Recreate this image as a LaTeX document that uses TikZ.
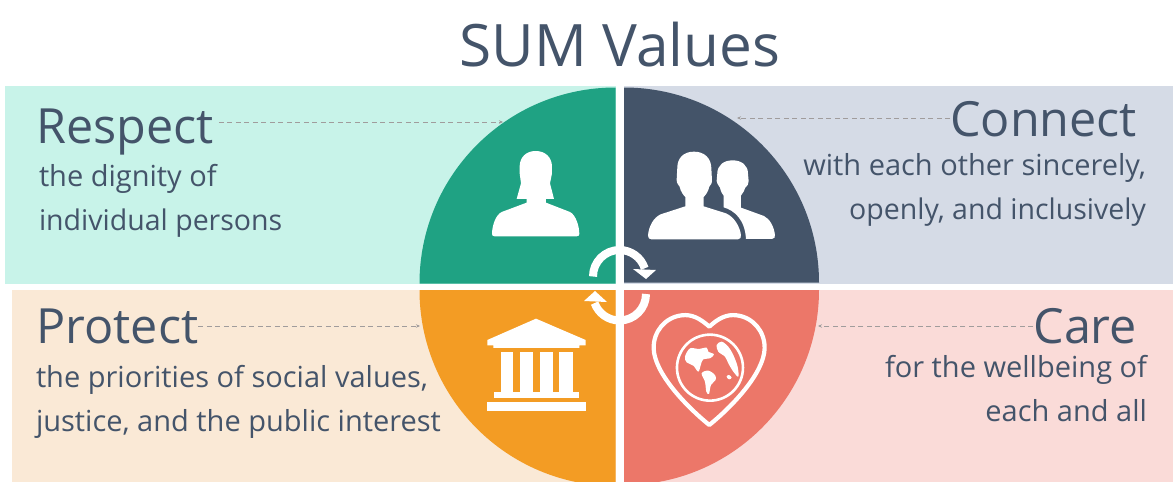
\documentclass[tikz,border=0pt]{standalone}
\usepackage{fontspec}
\setmainfont{Open Sans}
\usetikzlibrary{arrows.meta}
\definecolor{ink}{HTML}{44546A}
\definecolor{bgG}{HTML}{C8F3E9}
\definecolor{bgN}{HTML}{D5DBE6}
\definecolor{bgO}{HTML}{FAE9D6}
\definecolor{bgR}{HTML}{FADBD8}
\definecolor{cG}{HTML}{1FA283}
\definecolor{cN}{HTML}{445469}
\definecolor{cO}{HTML}{F39C24}
\definecolor{cR}{HTML}{EC7769}
\definecolor{dash}{HTML}{A09C9C}
\tikzset{
  head/.style={inner sep=0pt,outer sep=0pt,text=ink,font=\fontsize{48.5}{48}\selectfont},
  body/.style={inner sep=0pt,outer sep=0pt,text=ink,font=\fontsize{29}{30}\selectfont},
  bodytight/.style={inner sep=0pt,outer sep=0pt,text=ink,font=\fontsize{28.5}{30}\selectfont},
  conn/.style={draw=dash,line width=1pt,dash pattern=on 5pt off 3.5pt,-{Stealth[length=4pt,width=3.5pt]}},
  ico/.style={fill=white,draw=none},
  ring/.style={draw=white,line width=8pt},
  zoomA/.style={shift={(420,80)},x=0.3333pt,y=-0.3333pt},
  zoomB/.style={shift={(420,240)},x=0.3333pt,y=-0.3333pt}
}
\begin{document}
\begin{tikzpicture}[x=1pt,y=-1pt]
\useasboundingbox (0,0) rectangle (1173,482);
\fill[white] (0,0) rectangle (1173,482);
% panels
\fill[bgG] (5,86) rectangle (616,284);
\fill[bgN] (624,86) rectangle (1173,284);
\fill[bgO] (12,290) rectangle (616,482);
\fill[bgR] (624,290) rectangle (1173,482);
% quadrants
\begin{scope}
\clip (0,0) rectangle (1173,482);
\fill[cG] (615.5,283.5) -- (419.5,283.5) arc[start angle=180,end angle=90,radius=196pt] -- cycle;
\fill[cN] (624,282.5) -- (624,87.5) arc[start angle=90,end angle=0,radius=195pt] -- cycle;
\fill[cO] (615.5,290) -- (615.5,486) arc[start angle=270,end angle=180,radius=196pt] -- cycle;
\fill[cR] (624,290) -- (819,290) arc[start angle=0,end angle=-90,radius=195pt] -- cycle;
\end{scope}
% title
\node[inner sep=0pt,text=ink,anchor=base,font=\fontsize{58.5}{58}\selectfont] (title) at (620,66) {SUM Values};
% headings
\node[head,anchor=base west] (respect) at (36.5,143) {Respect};
\node[head,anchor=base east] (connect) at (1137,136) {Connect};
\node[head,anchor=base west] (protect) at (36.5,343) {Protect};
\node[head,anchor=base east] (care) at (1137,343) {Care};
% bodies
\node[body,anchor=base west] (r1) at (39,186) {the dignity of};
\node[bodytight,anchor=base west] (r2) at (39,230) {individual persons};
\node[body,anchor=base east] (c1) at (1146,175) {with each other sincerely,};
\node[bodytight,anchor=base east] (c2) at (1146,219) {openly, and inclusively};
\node[body,anchor=base west] (p1) at (36,387) {the priorities of social values,};
\node[body,anchor=base west] (p2) at (36,431) {justice, and the public interest};
\node[body,anchor=base east] (k1) at (1147,377) {for the wellbeing of};
\node[body,anchor=base east] (k2) at (1147,421) {each and all};
% connectors
\coordinate (respectEnd) at (503,122);
\coordinate (connectEnd) at (737,118);
\coordinate (protectEnd) at (420,326);
\coordinate (careEnd) at (818,326);
\draw[conn] (respect.east |- respectEnd) ++(5,0) -- (respectEnd);
\draw[conn] (connect.west |- connectEnd) -- (connectEnd);
\draw[conn] (protect.east |- protectEnd) -- (protectEnd);
\draw[conn] (care.west |- careEnd) -- (careEnd);
% woman
\begin{scope}[zoomA]
\fill[ico] (347,213) .. controls (318,213) and (300,232) .. (299,258) -- (299,280) -- (303,310)
 -- (290,357) -- (320,357) -- (320,368) -- (245,396) .. controls (226,405) and (216,440) .. (216,462)
 .. controls (216,466) and (218,469) .. (224,469) -- (470,469) .. controls (476,469) and (478,466) .. (478,462)
 .. controls (478,440) and (468,405) .. (450,396) -- (378,368) -- (378,357) -- (402,357) -- (390,310)
 -- (396,280) -- (396,258) .. controls (395,232) and (376,213) .. (347,213) -- cycle;
\begin{scope}[shift={(660,195)}]
% back man
\fill[ico] (278,46) .. controls (250,46) and (232,62) .. (232,85) -- (230,108) .. controls (232,120) and (238,122) .. (240,128)
 .. controls (243,142) and (248,148) .. (251,152) -- (251,187) .. controls (285,197) and (315,225) .. (318,282)
 -- (396,282) .. controls (403,282) and (406,276) .. (405,270) .. controls (402,245) and (390,222) .. (372,213)
 -- (303,188) -- (303,152) .. controls (310,145) and (313,135) .. (316,128) .. controls (322,122) and (327,118) .. (326,108)
 -- (324,85) .. controls (324,62) and (306,46) .. (278,46) -- cycle;
% front man
\fill[ico] (162,20) .. controls (130,20) and (112,40) .. (112,68) -- (110,105) .. controls (110,116) and (116,120) .. (119,125)
 .. controls (122,140) and (130,150) .. (136,156) -- (136,184) -- (62,208) .. controls (40,218) and (26,245) .. (24,272)
 .. controls (24,279) and (28,283) .. (34,283) -- (294,283) .. controls (301,283) and (304,277) .. (303,270)
 .. controls (300,245) and (282,215) .. (258,205) -- (191,184) -- (191,156) .. controls (197,150) and (205,140) .. (208,125)
 .. controls (212,120) and (216,116) .. (216,105) -- (214,68) .. controls (213,40) and (194,20) .. (162,20) -- cycle;
\end{scope}
\end{scope}
% temple
\begin{scope}[zoomB]
\fill[ico] (348,236) -- (202,300) -- (202,316) -- (220,316) -- (220,324) -- (478,324) -- (478,316) -- (497,316) -- (497,300) -- cycle;
\fill[ico] (242,335) rectangle (280,455);
\fill[ico] (300,335) rectangle (340,455);
\fill[ico] (360,335) rectangle (398,455);
\fill[ico] (418,335) rectangle (458,455);
\fill[ico] (222,455) rectangle (477,473);
\fill[ico] (202,485) rectangle (497,512);
% heart
\draw[white,line width=4.2pt,line join=round] (868,260) .. controls (840,235) and (815,222) .. (785,226)
 .. controls (735,232) and (700,275) .. (701,325) .. controls (703,400) and (800,500) .. (868,555)
 .. controls (936,500) and (1032,400) .. (1034,325) .. controls (1035,275) and (1000,232) .. (950,226)
 .. controls (920,222) and (895,235) .. (868,260) -- cycle;
% globe
\draw[white,line width=2.6pt] (870,383) circle[radius=33pt];
\begin{scope}[shift={(735,255)}]
\fill[ico] plot[smooth cycle,tension=0.55] coordinates {(60,95) (75,70) (100,72) (125,68) (130,80) (147,88) (135,100) (115,103) (108,118) (100,140) (85,122) (65,112)};
\fill[ico] plot[smooth cycle,tension=0.55] coordinates {(155,60) (170,50) (190,65) (205,90) (218,125) (220,155) (205,140) (190,115) (180,95) (160,80)};
\fill[ico] plot[smooth cycle,tension=0.55] coordinates {(110,145) (130,137) (150,150) (152,165) (138,180) (132,207) (124,200) (120,170)};
\fill[ico] plot[smooth cycle,tension=0.7] coordinates {(185,155) (192,150) (200,158) (192,163)};
\end{scope}
\end{scope}
% cycle arrows
\draw[ring] (593,276.5) arc[start angle=180,end angle=18,radius=26.5pt];
\fill[ico] (633,269) -- (656,270) -- (646,279) -- cycle;
\draw[ring] (646,294) arc[start angle=0,end angle=-160,radius=26.5pt];
\fill[ico] (584,301) -- (595,291) -- (607,302) -- cycle;
\end{tikzpicture}
\end{document}
